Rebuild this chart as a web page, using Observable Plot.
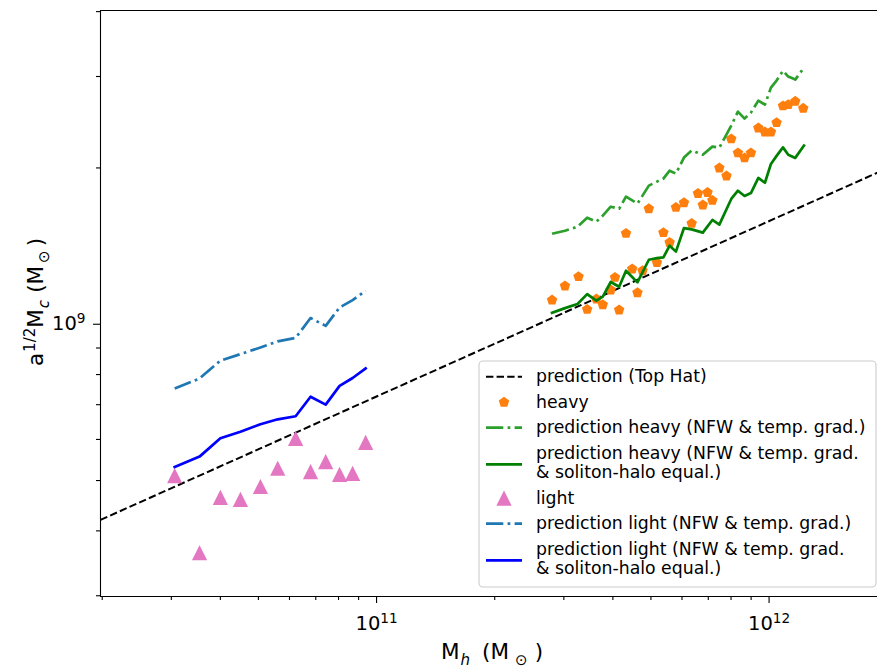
<!DOCTYPE html>
<html>
<head>
<meta charset="utf-8">
<script src="https://cdn.jsdelivr.net/npm/d3@7"></script>
<script src="https://cdn.jsdelivr.net/npm/@observablehq/plot@0.6"></script>
<style>
  body { margin: 0; background: #fff; }
  #chart { width: 877px; height: 671px; }
</style>
</head>
<body>
<div id="chart"></div>
<script>
// ---------------- data ----------------
// light sample
const lightMh = [3.06e10, 3.54e10, 4.00e10, 4.50e10, 5.06e10, 5.60e10, 6.22e10, 6.79e10, 7.42e10, 8.05e10, 8.69e10, 9.38e10];
const lightMc = [5.11e8, 3.63e8, 4.64e8, 4.60e8, 4.87e8, 5.28e8, 6.03e8, 5.20e8, 5.44e8, 5.14e8, 5.16e8, 5.92e8];
const lightPredNFW = [7.52e8, 7.86e8, 8.51e8, 8.76e8, 9.02e8, 9.27e8, 9.41e8, 1.028e9, 9.93e8, 1.077e9, 1.113e9, 1.160e9];
const lightPredSoliton = [5.31e8, 5.56e8, 6.03e8, 6.21e8, 6.42e8, 6.56e8, 6.65e8, 7.25e8, 7.00e8, 7.61e8, 7.88e8, 8.22e8];

// heavy sample
const heavyMh = [2.80e11, 3.02e11, 3.27e11, 3.44e11, 3.63e11, 3.77e11, 3.95e11, 4.05e11, 4.15e11, 4.32e11,
                 4.48e11, 4.62e11, 4.76e11, 4.94e11, 5.18e11, 5.38e11, 5.58e11, 5.79e11, 6.07e11, 6.35e11,
                 6.59e11, 6.78e11, 6.97e11, 7.17e11, 7.47e11, 7.79e11, 8.01e11, 8.33e11, 8.66e11, 8.99e11,
                 9.39e11, 9.76e11, 1.011e12, 1.045e12, 1.085e12, 1.119e12, 1.166e12, 1.222e12];
const heavyMc = [1.113e9, 1.185e9, 1.235e9, 1.068e9, 1.118e9, 1.090e9, 1.164e9, 1.231e9, 1.065e9, 1.496e9,
                 1.278e9, 1.150e9, 1.268e9, 1.669e9, 1.314e9, 1.501e9, 1.437e9, 1.679e9, 1.714e9, 1.564e9,
                 1.786e9, 1.697e9, 1.794e9, 1.732e9, 2.000e9, 1.930e9, 2.275e9, 2.138e9, 2.091e9, 2.138e9,
                 2.388e9, 2.346e9, 2.346e9, 2.445e9, 2.633e9, 2.648e9, 2.687e9, 2.605e9];

const heavyPredMh = [2.80e11, 3.02e11, 3.25e11, 3.44e11, 3.63e11, 3.77e11, 3.95e11, 4.15e11, 4.32e11, 4.62e11,
                     4.94e11, 5.18e11, 5.38e11, 5.58e11, 5.79e11, 6.07e11, 6.35e11, 6.78e11, 7.17e11, 7.47e11,
                     8.01e11, 8.33e11, 8.66e11, 8.99e11, 9.39e11, 9.76e11, 1.011e12, 1.045e12, 1.085e12, 1.119e12,
                     1.166e12, 1.227e12];
const heavyPredNFW = [1.494e9, 1.514e9, 1.541e9, 1.604e9, 1.576e9, 1.618e9, 1.684e9, 1.669e9, 1.761e9, 1.707e9,
                      1.849e9, 1.882e9, 1.907e9, 1.976e9, 1.950e9, 2.094e9, 2.160e9, 2.121e9, 2.198e9, 2.188e9,
                      2.413e9, 2.567e9, 2.489e9, 2.556e9, 2.696e9, 2.648e9, 2.856e9, 2.946e9, 3.078e9, 2.999e9,
                      2.959e9, 3.120e9];
const heavyPredSoliton = [1.052e9, 1.074e9, 1.094e9, 1.143e9, 1.110e9, 1.130e9, 1.206e9, 1.181e9, 1.268e9, 1.204e9,
                          1.331e9, 1.341e9, 1.345e9, 1.417e9, 1.380e9, 1.532e9, 1.523e9, 1.501e9, 1.588e9, 1.555e9,
                          1.743e9, 1.808e9, 1.766e9, 1.789e9, 1.913e9, 1.873e9, 2.036e9, 2.110e9, 2.191e9, 2.121e9,
                          2.091e9, 2.208e9];

// top-hat prediction (straight line in log-log)
const topHatMh = [1.98e10, 1.98e12];
const topHatMc = [4.20e8, 1.99e9];

// axes
const xDomain = [1.98e10, 1.889e12];
const yDomain = [2.99e8, 4.02e9];
const xMajorTicks = [1e11, 1e12];
const xMinorTicks = [2e10, 3e10, 4e10, 5e10, 6e10, 7e10, 8e10, 9e10, 2e11, 3e11, 4e11, 5e11, 6e11, 7e11, 8e11, 9e11];
const yMajorTicks = [1e9];
const yMinorTicks = [3e8, 4e8, 5e8, 6e8, 7e8, 8e8, 9e8, 2e9, 3e9, 4e9];

const legendLabels = [
  ["prediction (Top Hat)"],
  ["heavy"],
  ["prediction heavy (NFW & temp. grad.)"],
  ["prediction heavy (NFW & temp. grad.", "& soliton-halo equal.)"],
  ["light"],
  ["prediction light (NFW & temp. grad.)"],
  ["prediction light (NFW & temp. grad.", "& soliton-halo equal.)"]
];

// ---------------- styles ----------------
const FONT = '"DejaVu Sans", "Liberation Sans", sans-serif';
const LW = 2.7;
const DASHDOT = "17.3,4.3,2.7,4.3";
const DASHED = "7.4,3.2";
const TICKFONT = 19.5;
const C = {
  tophat: "#000000", heavy: "#ff7f0e", heavyNFW: "#2ca02c", heavySol: "#008000",
  light: "#e377c2", lightNFW: "#1f77b4", lightSol: "#0000ff"
};

// matplotlib-like marker shapes
const pentagon = {
  draw(ctx, size) {
    const r = Math.sqrt(size / Math.PI);
    for (let k = 0; k < 5; k++) {
      const a = -Math.PI / 2 + k * 2 * Math.PI / 5;
      const px = r * Math.cos(a), py = r * Math.sin(a);
      if (k) ctx.lineTo(px, py); else ctx.moveTo(px, py);
    }
    ctx.closePath();
  }
};
const triangle = {
  draw(ctx, size) {
    const r = Math.sqrt(size / Math.PI);
    ctx.moveTo(0, -r); ctx.lineTo(-r, r); ctx.lineTo(r, r); ctx.closePath();
  }
};

// ---------------- tables ----------------
const light = lightMh.map((m, i) => ({Mh: m, Mc: lightMc[i], nfw: lightPredNFW[i], sol: lightPredSoliton[i]}));
const heavy = heavyMh.map((m, i) => ({Mh: m, Mc: heavyMc[i]}));
const heavyPred = heavyPredMh.map((m, i) => ({Mh: m, nfw: heavyPredNFW[i], sol: heavyPredSoliton[i]}));
const topHat = topHatMh.map((m, i) => ({Mh: m, Mc: topHatMc[i]}));

const expFmt = d => `10^${Math.round(Math.log10(d))}`;

const svgEl = Plot.plot({
  width: 877, height: 671,
  marginLeft: 100, marginRight: 0, marginTop: 10, marginBottom: 75,
  style: {fontFamily: FONT, fontSize: TICKFONT + "px", background: "#fff", color: "#000", overflow: "visible"},
  x: {type: "log", domain: xDomain, label: null},
  y: {type: "log", domain: yDomain, label: null},
  marks: [
    Plot.line(topHat, {x: "Mh", y: "Mc", stroke: C.tophat, strokeWidth: 2, strokeDasharray: DASHED, strokeLinecap: "butt", clip: true}),
    Plot.dot(heavy, {x: "Mh", y: "Mc", symbol: pentagon, r: 5.5, fill: C.heavy, stroke: "none"}),
    Plot.line(heavyPred, {x: "Mh", y: "nfw", stroke: C.heavyNFW, strokeWidth: LW, strokeDasharray: DASHDOT, strokeLinecap: "butt"}),
    Plot.line(heavyPred, {x: "Mh", y: "sol", stroke: C.heavySol, strokeWidth: LW, strokeLinecap: "square"}),
    Plot.dot(light, {x: "Mh", y: "Mc", symbol: triangle, r: 7.6, fill: C.light, stroke: "none"}),
    Plot.line(light, {x: "Mh", y: "nfw", stroke: C.lightNFW, strokeWidth: LW, strokeDasharray: DASHDOT, strokeLinecap: "butt"}),
    Plot.line(light, {x: "Mh", y: "sol", stroke: C.lightSol, strokeWidth: LW, strokeLinecap: "square"}),
    // axes
    Plot.axisX(xMinorTicks, {tickSize: 4, tickFormat: () => "", label: null, strokeWidth: 1.1}),
    Plot.axisX(xMajorTicks, {tickSize: 7, tickPadding: 13, tickFormat: expFmt, label: null, strokeWidth: 1.1, fontSize: TICKFONT}),
    Plot.axisY(yMinorTicks, {tickSize: 4, tickFormat: () => "", label: null, strokeWidth: 1.1}),
    Plot.axisY(yMajorTicks, {tickSize: 7, tickPadding: 8, tickFormat: expFmt, label: null, strokeWidth: 1.1, fontSize: TICKFONT}),
    // frame (left, bottom, top)
    Plot.ruleX([xDomain[0]], {stroke: "#000", strokeWidth: 1.1}),
    Plot.ruleY([yDomain[0]], {stroke: "#000", strokeWidth: 1.1}),
    Plot.ruleY([yDomain[1]], {stroke: "#000", strokeWidth: 1.1})
  ]
});
document.getElementById("chart").appendChild(svgEl);

const svg = d3.select(svgEl);

// superscript tick labels (10^n)
svg.selectAll("text").each(function () {
  const m = /^10\^(\d+)$/.exec(this.textContent);
  if (!m) return;
  this.textContent = "";
  const t = d3.select(this).style("font-size", TICKFONT + "px").style("font-family", FONT);
  t.append("tspan").text("10");
  t.append("tspan").style("font-size", (0.7 * TICKFONT) + "px").attr("dy", -0.38 * TICKFONT).text(m[1]);
});

// math-like label builder: parts = [{t, sub|sup, italic, dx}]
function mathText(sel, parts, size) {
  let shift = 0;
  parts.forEach(p => {
    const target = p.sub ? 0.26 * size : p.sup ? -0.36 * size : 0;
    const ts = sel.append("tspan").text(p.t).attr("dy", target - shift);
    if (p.dx) ts.attr("dx", p.dx);
    shift = target;
    if (p.sub || p.sup) ts.style("font-size", (0.7 * size) + "px");
    if (p.italic) ts.style("font-style", "italic");
  });
}

const LABEL = 21.5;
// x label
const xl = svg.append("text").attr("x", 492).attr("y", 659)
  .attr("text-anchor", "middle").style("font-family", FONT).style("font-size", LABEL + "px").attr("fill", "#000");
mathText(xl, [{t: "M"}, {t: "h", sub: true, italic: true, dx: 1}, {t: "(M", dx: 12}, {t: "\u2299", sub: true, dx: 6}, {t: ")", dx: 7}], LABEL);

// y label
const yl = svg.append("text").attr("transform", "translate(43,302) rotate(-90)")
  .attr("text-anchor", "middle").style("font-family", FONT).style("font-size", LABEL + "px").attr("fill", "#000");
mathText(yl, [{t: "a"}, {t: "1/2", sup: true, dx: 1}, {t: "M"}, {t: "c", sub: true, italic: true, dx: 1}, {t: "(M", dx: 7}, {t: "\u2299", sub: true, dx: 3}, {t: ")", dx: 4}], LABEL);

// ---------------- legend ----------------
const lg = svg.append("g").attr("text-anchor", "start")
  .style("font-family", FONT).style("font-size", "17.3px");
lg.append("rect").attr("x", 479).attr("y", 361).attr("width", 397).attr("height", 226).attr("rx", 4)
  .attr("fill", "#fff").attr("fill-opacity", 0.8).attr("stroke", "#cccccc").attr("stroke-width", 1.1);

const handles = [
  {type: "line", stroke: C.tophat, w: 2, dash: DASHED},
  {type: "marker", symbol: pentagon, r: 5.5, fill: C.heavy},
  {type: "line", stroke: C.heavyNFW, w: LW, dash: DASHDOT},
  {type: "line", stroke: C.heavySol, w: LW},
  {type: "marker", symbol: triangle, r: 7.6, fill: C.light},
  {type: "line", stroke: C.lightNFW, w: LW, dash: DASHDOT},
  {type: "line", stroke: C.lightSol, w: LW}
];
let yCur = 376.7;
legendLabels.forEach((lines, i) => {
  const first = yCur, last = yCur + (lines.length - 1) * 19.5;
  const hy = (first + last) / 2 + (lines.length > 1 ? 1.5 : 0);
  const h = handles[i];
  if (h.type === "line") {
    const ln = lg.append("line").attr("x1", 486).attr("x2", 522).attr("y1", hy).attr("y2", hy)
      .attr("stroke", h.stroke).attr("stroke-width", h.w);
    if (h.dash) ln.attr("stroke-dasharray", h.dash);
  } else {
    lg.append("path").attr("transform", `translate(504,${hy})`)
      .attr("d", d3.symbol(h.symbol, h.r * h.r * Math.PI)()).attr("fill", h.fill);
  }
  lines.forEach((s, j) => {
    lg.append("text").attr("x", 536).attr("y", first + j * 19.5).attr("dy", "0.33em")
      .attr("text-anchor", "start").attr("fill", "#000").text(s);
  });
  yCur = last + 25.5;
});
</script>
</body>
</html>
